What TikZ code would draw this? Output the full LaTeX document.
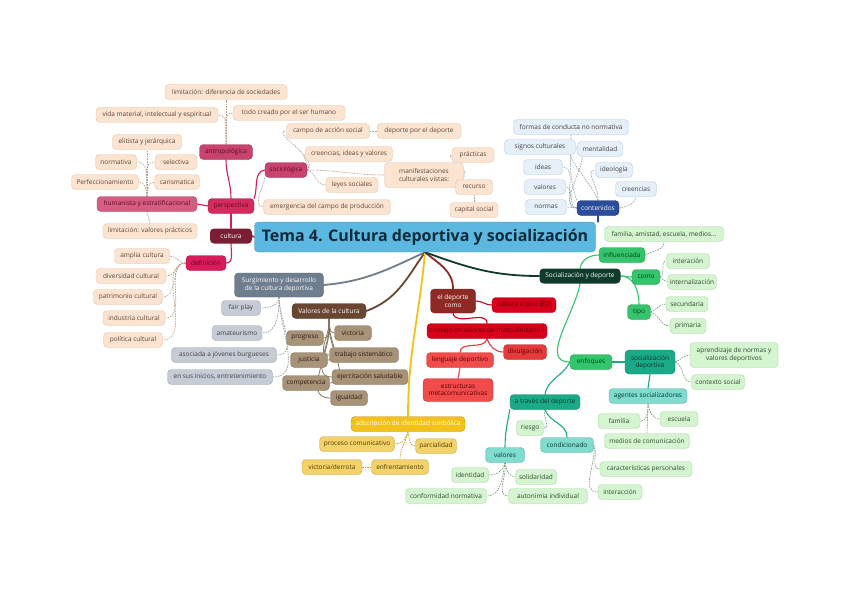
\documentclass[tikz,border=0pt]{standalone}
\usepackage{fontspec}
\setmainfont{Open Sans}
\usetikzlibrary{calc}
\pgfdeclarelayer{back}
\pgfdeclarelayer{bg}
\pgfsetlayers{back,bg,main}
\definecolor{beigeF}{HTML}{FCE4D0}\definecolor{beigeD}{HTML}{E2C4AA}\definecolor{beigeT}{HTML}{5A4535}
\definecolor{pinkA}{HTML}{C8436E}\definecolor{pinkT}{HTML}{5A0D22}
\definecolor{crimA}{HTML}{D42A5E}\definecolor{crimB}{HTML}{D81B5A}\definecolor{pinkH}{HTML}{D65C82}
\definecolor{cultF}{HTML}{7A1E33}
\definecolor{blueF}{HTML}{E6F0FA}\definecolor{blueD}{HTML}{B5C8DE}\definecolor{blueN}{HTML}{2B4C9B}
\definecolor{socF}{HTML}{0F3B2B}\definecolor{grnA}{HTML}{34C46C}\definecolor{grnT}{HTML}{0A3A1A}
\definecolor{lgF}{HTML}{D4F5CF}\definecolor{lgD}{HTML}{A5D9A0}\definecolor{lgT}{HTML}{2A4A2A}
\definecolor{tealA}{HTML}{1BAA88}\definecolor{tealB}{HTML}{7FDCCF}\definecolor{tealT}{HTML}{08352A}
\definecolor{grayA}{HTML}{6E7E8E}\definecolor{grayL}{HTML}{C5CCD5}\definecolor{grayD}{HTML}{9AA5B0}
\definecolor{brnA}{HTML}{6A4632}\definecolor{brnL}{HTML}{A89278}\definecolor{brnT}{HTML}{2A1A10}
\definecolor{redA}{HTML}{8E2A24}\definecolor{redB}{HTML}{D9001B}\definecolor{redC}{HTML}{E53A3A}\definecolor{redD}{HTML}{F24B4B}\definecolor{redT}{HTML}{5A0000}
\definecolor{yelA}{HTML}{F2C21A}\definecolor{yelL}{HTML}{F4D26A}\definecolor{yelT}{HTML}{4A3A00}
\definecolor{titF}{HTML}{5BB8E0}\definecolor{titT}{HTML}{0F2A3A}
\tikzset{
 bx/.style={rounded corners=4pt,font=\fontsize{6.5}{7.4}\selectfont,inner xsep=2pt,inner ysep=1pt,minimum height=15pt,align=center,line width=0.4pt},
 beige/.style={bx,fill=beigeF,draw=beigeD,text=beigeT},
 pinkn/.style={bx,fill=pinkA,draw=pinkA!80!black,text=pinkT},
 bluel/.style={bx,fill=blueF,draw=blueD,text=black!75},
 greenl/.style={bx,fill=lgF,draw=lgD,text=lgT},
 greenm/.style={bx,fill=grnA,draw=grnA!80!black,text=grnT},
 tealm/.style={bx,fill=tealA,draw=tealA!80!black,text=tealT},
 teall/.style={bx,fill=tealB,draw=tealB!80!black,text=tealT},
 grayl/.style={bx,fill=grayL,draw=grayD,text=black!75},
 brnl/.style={bx,fill=brnL,draw=brnL!80!black,text=brnT},
 yell/.style={bx,fill=yelL,draw=yelL!80!black,text=yelT},
 main/.style={draw=#1,line width=1.8pt,line cap=round},
 sub/.style={draw=#1,line width=1.1pt,line cap=round},
 lk/.style={draw=#1,line width=0.6pt,dash pattern=on 1.6pt off 1pt},
}
\newcommand\nd[6]{\node[#1,minimum width=#5pt] (#2) at (#3,#4) {#6};}
\begin{document}
\begin{tikzpicture}[x=1pt,y=-1pt]
\begin{pgfonlayer}{back}
\fill[white] (0,0) rectangle (848,599);
\end{pgfonlayer}
\useasboundingbox (0,0) rectangle (848,599);
% title
\node[rounded corners=4pt,fill=titF,draw=titF!80!black,text=titT,font=\fontsize{16}{18}\bfseries\selectfont,minimum width=341pt,minimum height=30pt,inner xsep=2pt] (title) at (425,237) {Tema 4. Cultura deportiva y socialización};
% cultura branch
\nd{bx,fill=cultF,text=white}{cult}{231}{236}{42}{cultura}
\nd{bx,fill=crimA,draw=crimA!80!black,text=pinkT}{persp}{231}{206}{46}{perspectiva}
\nd{bx,fill=crimB,draw=crimB!80!black,text=pinkT}{defi}{206}{263}{40}{definición}
\nd{pinkn}{antro}{226}{152}{53}{antropológica}
\nd{pinkn}{socio}{286}{170}{42}{sociológica}
\nd{bx,fill=pinkH,draw=pinkH!80!black,text=pinkT}{human}{147}{204}{100}{humanista y estratificacional}
\nd{beige}{lima}{226}{92}{122}{limitación: diferencia de sociedades}
\nd{beige}{vida}{157}{115}{122}{vida material, intelectual y espiritual}
\nd{beige}{todo}{289}{113}{112}{todo creado por el ser humano}
\nd{beige}{elit}{147}{142}{69}{elitista y jerárquica}
\nd{beige}{norm}{116}{162}{41}{normativa}
\nd{beige}{selec}{176}{162}{42}{selectiva}
\nd{beige}{perf}{105}{182}{67}{Perfeccionamiento}
\nd{beige}{caris}{177}{182}{45}{carismatica}
\nd{beige}{limb}{150}{231}{94}{limitación: valores prácticos}
\nd{beige}{amp}{142}{256}{55}{amplia cultura}
\nd{beige}{div}{131}{276}{70}{diversidad cultural}
\nd{beige}{patr}{128}{297}{69}{patrimonio cultural}
\nd{beige}{indu}{134}{318}{62}{industria cultural}
\nd{beige}{poli}{133}{340}{59}{política cultural}
\nd{beige}{campo}{328}{131}{83}{campo de acción social}
\nd{beige}{dpd}{419}{131}{84}{deporte por el deporte}
\nd{beige}{cree}{349}{154}{87}{creencias, ideas y valores}
\nd{beige}{leyes}{352}{185}{52}{leyes sociales}
\node[beige,minimum width=79pt,minimum height=25pt] (manif) at (424,175) {manifestaciones\\culturales vistas:};
\nd{beige}{prac}{473}{155}{42}{prácticas}
\nd{beige}{recu}{474}{187}{37}{recurso}
\nd{beige}{caps}{474}{210}{48}{capital social}
\nd{beige}{emerg}{327}{207}{127}{emergencia del campo de producción}
% contenidos
\nd{bx,fill=blueN,draw=blueN!80!black,text=white}{cont}{598}{208}{42}{contenidos}
\nd{bluel}{formas}{571}{127}{115}{formas de conducta no normativa}
\nd{bluel}{signos}{540}{147}{71}{signos culturales}
\nd{bluel}{ideas}{543}{167}{39}{ideas}
\nd{bluel}{valb}{545}{187}{41}{valores}
\nd{bluel}{normb}{546}{207}{41}{normas}
\nd{bluel}{ment}{600}{149}{45}{mentalidad}
\nd{bluel}{ideo}{614}{170}{37}{ideología}
\nd{bluel}{creb}{636}{189}{41}{creencias}
% socializacion
\nd{bx,fill=socF,text=white}{soc}{580}{276}{81}{Socialización y deporte}
\nd{greenm}{infl}{622}{255}{46}{influenciada}
\nd{greenl}{fam}{664}{234}{119}{familia, amistad, escuela, medios...}
\nd{greenm}{como}{646}{277}{28}{como}
\nd{greenl}{inter}{688}{261}{43}{interación}
\nd{greenl}{intern}{692}{282}{49}{internalización}
\nd{greenm}{tipo}{639}{312}{23}{tipo}
\nd{greenl}{secu}{687}{304}{42}{secundaria}
\nd{greenl}{prim}{688}{326}{36}{primaria}
\nd{greenm}{enf}{591}{362}{42}{enfoques}
\node[tealm,minimum width=50pt,minimum height=24pt] (socdep) at (650,362) {socialización\\deportiva};
\node[greenl,minimum width=88pt,minimum height=25pt] (apren) at (734,355) {aprendizaje de normas y\\valores deportivos};
\nd{greenl}{ctx}{718}{382}{53}{contexto social}
\nd{teall}{agen}{648}{396}{78}{agentes socializadores}
\nd{greenl}{famb}{619}{421}{42}{familia}
\nd{greenl}{esc}{679}{419}{38}{escuela}
\nd{greenl}{medi}{647}{441}{85}{medios de comunicación}
\nd{tealm}{atd}{545}{402}{70}{a través del deporte}
\nd{greenl}{ries}{530}{428}{27}{riesgo}
\nd{teall}{cond}{567}{445}{53}{condicionado}
\nd{greenl}{carac}{646}{469}{92}{características personales}
\nd{greenl}{intac}{620}{492}{44}{interacción}
\nd{teall}{valt}{505}{455}{39}{valores}
\nd{greenl}{iden}{470}{475}{37}{identidad}
\nd{greenl}{soli}{536}{477}{41}{solidaridad}
\nd{greenl}{conf}{446}{496}{81}{conformidad normativa}
\nd{greenl}{auto}{548}{496}{79}{autonimia individual}
% surgimiento
\node[bx,fill=grayA,draw=grayA!80!black,text=white,minimum width=89pt,minimum height=24pt] (surg) at (279,285) {Surgimiento y desarrollo\\de la cultura deportiva};
\nd{grayl}{fair}{241}{308}{39}{fair play}
\nd{grayl}{amat}{237}{333}{50}{amateurismo}
\nd{grayl}{asoc}{224}{355}{105}{asociada a jóvenes burgueses}
\nd{grayl}{inic}{220}{377}{105}{en sus inicios, entretenimiento}
% valores de la cultura
\nd{bx,fill=brnA,draw=brnA!80!black,text=white}{valc}{329}{311}{74}{Valores de la cultura}
\nd{brnl}{prog}{305}{338}{37}{progreso}
\nd{brnl}{vict}{353}{333}{37}{victoria}
\nd{brnl}{just}{309}{360}{37}{justicia}
\nd{brnl}{trab}{364}{355}{69}{trabajo sistemático}
\nd{brnl}{comp}{306}{383}{47}{competencia}
\nd{brnl}{ejer}{370}{377}{76}{ejercitación saludable}
\nd{brnl}{igua}{349}{398}{37}{igualdad}
% el deporte como
\node[bx,fill=redA,draw=redA!80!black,text=white,minimum width=45pt,minimum height=24pt] (edc) at (453,301) {el deporte\\como};
\nd{bx,fill=redB,draw=redB!80!black,text=redT}{ocio}{524}{305}{64}{cultura e ocio (EV)}
\nd{bx,fill=redB,draw=redB!80!black,text=redT}{cons}{487}{331}{120}{consejo de valores de masculinización}
\nd{bx,fill=redC,draw=redC!80!black,text=redT}{divu}{525}{352}{43}{divulgación}
\nd{bx,fill=redD,draw=redD!80!black,text=redT}{leng}{460}{360}{67}{lenguaje deportivo}
\node[bx,fill=redD,draw=redD!80!black,text=redT,minimum width=70pt,minimum height=23pt] (estr) at (458,390) {estructuras\\metacomunicativas};
% adscripcion
\nd{bx,fill=yelA,draw=yelA!80!black,text=white}{adsc}{408}{424}{114}{adscripción de identidad simbólica}
\nd{yell}{proc}{357}{444}{75}{proceso comunicativo}
\nd{yell}{parc}{436}{446}{41}{parcialidad}
\nd{yell}{enfr}{400}{467}{57}{enfrentamiento}
\nd{yell}{vicd}{332}{467}{60}{victoria/derrota}

\begin{pgfonlayer}{bg}
% main branches
\draw[main=crimB] (title.west) -- (cult.east);
\draw[main=blueN] (cont.south) -- (cont.south |- title.north);
\draw[main=grayA] (title.south) to[out=205,in=5] (surg.east);
\draw[main=brnA] (title.south) to[out=235,in=20] (valc.east);
\draw[main=yelA] (title.south) to[out=265,in=90] (adsc.north);
\draw[main=redA] (title.south) to[out=-40,in=90] (edc.north);
\draw[main=socF] (title.south) to[out=-20,in=180] (soc.west);
% cultura
\draw[sub=crimB] (cult.north) -- (persp.south);
\draw[sub=crimB] (cult.south) to[out=-90,in=0] (defi.east);
\draw[sub=crimB] (persp.north) to[out=90,in=-90] (antro.south);
\draw[sub=crimB] (persp.north east) to[out=70,in=190] (socio.west);
\draw[sub=crimB] (persp.west) -- (human.east);
\draw[lk=beigeD!80!black] (antro.north) -- (lima.south);
\draw[lk=beigeD!80!black] (antro.north) to[out=95,in=0] (vida.east);
\draw[lk=beigeD!80!black] (antro.north) to[out=85,in=180] (todo.west);
\draw[lk=beigeD!80!black] (human.north) -- (elit.south);
\draw[lk=beigeD!80!black] (human.north) to[out=95,in=0] (norm.east);
\draw[lk=beigeD!80!black] (human.north) to[out=85,in=180] (selec.west);
\draw[lk=beigeD!80!black] (human.north) to[out=95,in=0] (perf.east);
\draw[lk=beigeD!80!black] (human.north) to[out=85,in=180] (caris.west);
\draw[lk=beigeD!80!black] (human.south) -- (limb.north);
\foreach \n in {amp,div,patr,indu,poli}
  \draw[lk=beigeD!80!black] (defi.west) to[out=180,in=0] (\n.east);
\draw[lk=beigeD!80!black] (socio.east) to[out=40,in=180] (campo.west);
\draw[lk=beigeD!80!black] (campo.east) -- (dpd.west);
\draw[lk=beigeD!80!black] (socio.east) to[out=20,in=180] (cree.west);
\draw[lk=beigeD!80!black] (socio.east) to[out=-20,in=180] (leyes.west);
\draw[lk=beigeD!80!black] (socio.east) to[out=0,in=180] (manif.west);
\draw[lk=beigeD!80!black] (socio.south west) to[out=-100,in=175] (emerg.west);
\draw[lk=beigeD!80!black] (manif.east) to[out=40,in=180] (prac.west);
\draw[lk=beigeD!80!black] (manif.east) to[out=-40,in=180] (recu.west);
\draw[lk=beigeD!80!black] (recu.south) -- (caps.north);
% contenidos
\draw[lk=blueD!80!black] (cont.north west) to[out=110,in=-90] (formas.south);
\foreach \n in {signos,ideas,valb,normb}
  \draw[lk=blueD!80!black] (cont.west) to[out=180,in=0] (\n.east);
\draw[lk=blueD!80!black] (cont.north) to[out=110,in=180] (ment.west);
\draw[lk=blueD!80!black] (cont.north) to[out=80,in=180] (ideo.west);
\draw[lk=blueD!80!black] (cont.east) to[out=10,in=-100] (creb.south);
% socializacion
\draw[sub=grnA] (soc.north) to[out=80,in=180] (infl.west);
\draw[sub=grnA] (soc.east) to[out=0,in=180] (como.west);
\draw[sub=grnA] (soc.east) to[out=0,in=90] (tipo.north);
\draw[sub=grnA] (soc.south) to[out=-100,in=180] (enf.west);
\draw[sub=tealA] (enf.west) to[out=-115,in=80] (atd.north);
\draw[sub=tealA] (enf.east) -- (socdep.west);
\draw[sub=tealA] (socdep.south) -- (agen.north);
\draw[sub=tealA] (atd.south) to[out=-70,in=90] (cond.north);
\draw[sub=tealA] (atd.south west) to[out=-100,in=90] (valt.north);
\draw[lk=lgD!70!black] (infl.east) to[out=30,in=-90] (fam.south);
\draw[lk=lgD!70!black] (como.east) to[out=30,in=180] (inter.west);
\draw[lk=lgD!70!black] (como.east) to[out=-30,in=180] (intern.west);
\draw[lk=lgD!70!black] (tipo.east) to[out=20,in=180] (secu.west);
\draw[lk=lgD!70!black] (tipo.east) to[out=-20,in=180] (prim.west);
\draw[lk=lgD!70!black] (socdep.east) to[out=20,in=180] (apren.west);
\draw[lk=lgD!70!black] (socdep.east) to[out=-20,in=180] (ctx.west);
\draw[lk=lgD!70!black] (agen.south) to[out=-90,in=0] (famb.east);
\draw[lk=lgD!70!black] (agen.south) to[out=-80,in=180] (esc.west);
\draw[lk=lgD!70!black] (agen.south) -- (medi.north);
\draw[lk=lgD!70!black] (atd.south) to[out=-110,in=0] (ries.east);
\draw[lk=lgD!70!black] (cond.east) to[out=-60,in=180] (carac.west);
\draw[lk=lgD!70!black] (cond.east) to[out=-80,in=180] (intac.west);
\draw[lk=lgD!70!black] (valt.south) to[out=-100,in=0] (iden.east);
\draw[lk=lgD!70!black] (valt.south) to[out=-80,in=180] (soli.west);
\draw[lk=lgD!70!black] (valt.south) to[out=-100,in=0] (conf.east);
\draw[lk=lgD!70!black] (valt.south) to[out=-80,in=180] (auto.west);
% surgimiento
\foreach \n in {fair,amat,asoc,inic}
  \draw[lk=grayD!90!black] (surg.south) to[out=-90,in=0] (\n.east);
% valores cultura
\foreach \n in {prog,just,comp}
  \draw[sub=brnL!80!black,line width=0.8pt] (valc.south) to[out=-100,in=0] (\n.east);
\foreach \n in {vict,trab,ejer,igua}
  \draw[sub=brnL!80!black,line width=0.8pt] (valc.south) to[out=-80,in=180] (\n.west);
% el deporte como
\draw[sub=redB] (edc.east) to[out=0,in=180] (ocio.west);
\draw[sub=redB] (edc.south) to[out=-80,in=90] (cons.north);
\draw[sub=redC] (cons.south) to[out=-70,in=180] (divu.west);
\draw[sub=redC] (cons.south) to[out=-100,in=90] (leng.north);
\draw[sub=redD] (leng.south) -- (estr.north);
% adscripcion
\draw[lk=yelA!80!black] (adsc.south) to[out=-100,in=0] (proc.east);
\draw[lk=yelA!80!black] (adsc.south) to[out=-80,in=180] (parc.west);
\draw[lk=yelA!80!black] (adsc.south) to[out=-100,in=90] (enfr.north);
\draw[lk=yelA!80!black] (enfr.west) -- (vicd.east);
\end{pgfonlayer}
\end{tikzpicture}
\end{document}
